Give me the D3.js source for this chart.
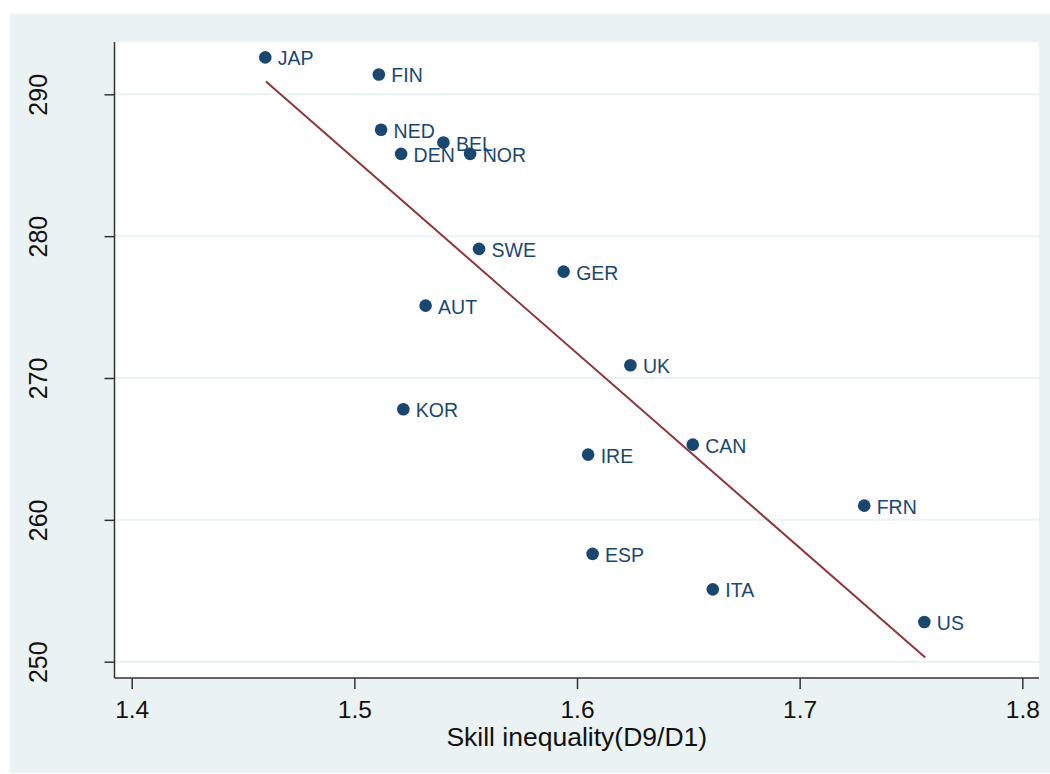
<!DOCTYPE html>
<html>
<head>
<meta charset="utf-8">
<script src="https://cdn.jsdelivr.net/npm/d3@7"></script>
<style>
  body { margin: 0; background: #fff; }
  text { font-family: "Liberation Sans", Arial, sans-serif; }
</style>
</head>
<body>
<div id="chart"></div>
<script>
// country codes and values
var countries = ["JAP", "FIN", "NED", "BEL", "DEN", "NOR", "SWE", "GER", "AUT",
                 "UK", "KOR", "IRE", "CAN", "FRN", "ESP", "ITA", "US"];
var inequality = [1.460, 1.511, 1.512, 1.540, 1.521, 1.552, 1.556, 1.594, 1.532,
                  1.624, 1.522, 1.605, 1.652, 1.729, 1.607, 1.661, 1.756];
var scores = [292.6, 291.4, 287.5, 286.6, 285.8, 285.8, 279.1, 277.5, 275.1,
              270.9, 267.8, 264.6, 265.3, 261.0, 257.6, 255.1, 252.8];

// fitted line end points
var fitX = [1.4603, 1.7564];
var fitY = [290.9, 250.3];

var xTicks = [1.4, 1.5, 1.6, 1.7, 1.8];
var yTicks = [250, 260, 270, 280, 290];

var width = 1050, height = 774;
var plotLeft = 114.5, plotRight = 1039, plotTop = 42, plotBottom = 678;

var svg = d3.select("#chart")
  .append("svg")
    .attr("width", width)
    .attr("height", height);

// outer graph region
svg.append("rect")
  .attr("x", 10).attr("y", 14)
  .attr("width", width - 10).attr("height", 759)
  .attr("fill", "#eaf2f3");

// plot region
svg.append("rect")
  .attr("x", plotLeft).attr("y", plotTop)
  .attr("width", plotRight - plotLeft).attr("height", plotBottom - plotTop)
  .attr("fill", "#ffffff");

var x = d3.scaleLinear().domain([1.4, 1.8]).range([131.7, 1022.3]);
var y = d3.scaleLinear().domain([250, 290]).range([661.7, 94.3]);

// grid lines
svg.append("g")
  .selectAll("line")
  .data(yTicks)
  .enter()
  .append("line")
    .attr("x1", plotLeft).attr("x2", plotRight)
    .attr("y1", function(d) { return y(d); })
    .attr("y2", function(d) { return y(d); })
    .attr("stroke", "#eaf2f3")
    .attr("stroke-width", 2);

// y axis
var yAxis = svg.append("g")
  .attr("transform", "translate(" + plotLeft + ",0)")
  .call(d3.axisLeft(y).tickValues(yTicks).tickSize(10).tickSizeOuter(0).tickFormat(d3.format("d")));
yAxis.select(".domain").remove();
yAxis.append("line")
  .attr("x1", 0).attr("x2", 0)
  .attr("y1", plotTop).attr("y2", plotBottom)
  .attr("stroke", "#333").attr("stroke-width", 1.5);
yAxis.selectAll(".tick line").attr("stroke", "#333").attr("stroke-width", 1.5);
yAxis.selectAll(".tick text")
  .attr("fill", "#111")
  .style("font-size", "25px")
  .attr("x", null).attr("dy", null)
  .attr("text-anchor", "middle")
  .attr("transform", "translate(-77,0) rotate(-90)")
  .attr("y", 0)
  .attr("dominant-baseline", "central");

// x axis
var xAxis = svg.append("g")
  .attr("transform", "translate(0," + plotBottom + ")")
  .call(d3.axisBottom(x).tickValues(xTicks).tickSize(11).tickSizeOuter(0).tickFormat(d3.format(".1f")));
xAxis.select(".domain").remove();
xAxis.append("line")
  .attr("x1", plotLeft).attr("x2", plotRight)
  .attr("y1", 0).attr("y2", 0)
  .attr("stroke", "#333").attr("stroke-width", 1.5);
xAxis.selectAll(".tick line").attr("stroke", "#333").attr("stroke-width", 1.5);
xAxis.selectAll(".tick text")
  .attr("fill", "#111")
  .style("font-size", "24.5px")
  .attr("dy", null)
  .attr("y", 40);

// axis title
svg.append("text")
  .attr("x", (plotLeft + plotRight) / 2)
  .attr("y", 746)
  .attr("text-anchor", "middle")
  .attr("fill", "#111")
  .style("font-size", "26.5px")
  .text("Skill inequality(D9/D1)");

// fitted line
svg.append("line")
  .attr("x1", x(fitX[0])).attr("y1", y(fitY[0]))
  .attr("x2", x(fitX[1])).attr("y2", y(fitY[1]))
  .attr("stroke", "#90353b")
  .attr("stroke-width", 2);

var points = countries.map(function(c, i) {
  return { name: c, x: inequality[i], y: scores[i] };
});

// marker labels
svg.append("g")
  .selectAll("text")
  .data(points)
  .enter()
  .append("text")
    .attr("x", function(d) { return x(d.x) + 12.5; })
    .attr("y", function(d) { return y(d.y) + 8; })
    .attr("fill", "#1a476f")
    .style("font-size", "19.5px")
    .text(function(d) { return d.name; });

// markers
svg.append("g")
  .selectAll("circle")
  .data(points)
  .enter()
  .append("circle")
    .attr("cx", function(d) { return x(d.x); })
    .attr("cy", function(d) { return y(d.y); })
    .attr("r", 6.3)
    .attr("fill", "#1a476f");
</script>
</body>
</html>
